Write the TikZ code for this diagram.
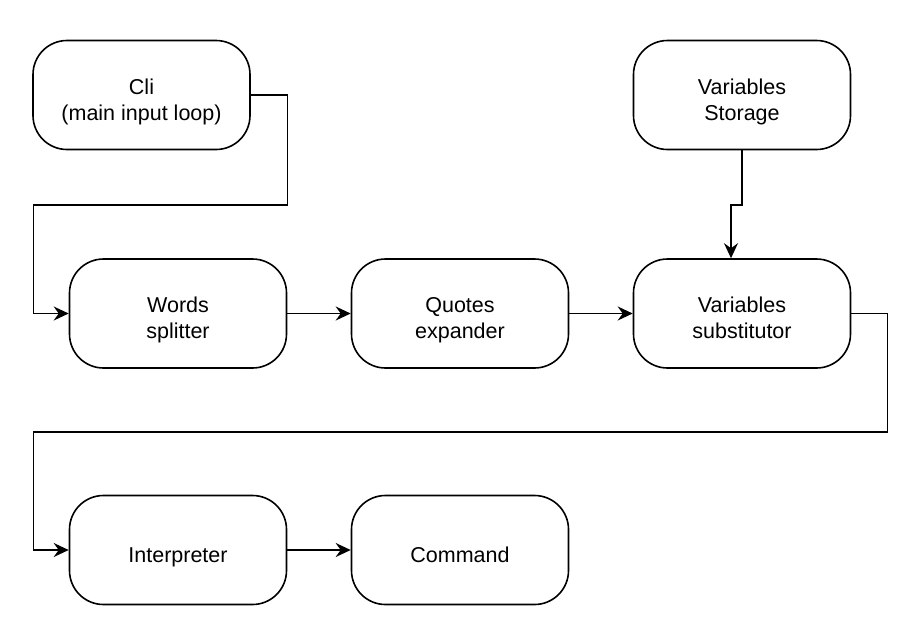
\documentclass[tikz,border=0pt]{standalone}
\usepackage{fontspec}
\setmainfont{Liberation Sans}
\usetikzlibrary{arrows.meta}
\tikzset{
  stage/.style={draw, line width=1.6pt, rounded corners=34pt, minimum width=217pt,
    minimum height=109pt, inner sep=0pt, align=center, text height=24pt, text depth=0pt,
    font=\fontsize{21.5}{26}\selectfont},
  twoline/.style={text height=50pt, text depth=0pt},
  flow/.style={line width=1.6pt, -{Stealth[length=15pt,width=14pt,inset=5pt]}}
}
\begin{document}
\begin{tikzpicture}[x=1pt,y=-1pt]
  \useasboundingbox (0,0) rectangle (918,627);
  \node (cli) [stage,twoline] at (141.5,95) {Cli\\(main input loop)};
  \node (storage) [stage,twoline] at (742,95) {Variables\\Storage};
  \node (words) [stage,twoline] at (178,313.5) {Words\\splitter};
  \node (quotes) [stage,twoline] at (460,313.5) {Quotes\\expander};
  \node (subst) [stage,twoline] at (742,313.5) {Variables\\substitutor};
  \node (interp) [stage] at (178,550) {Interpreter};
  \node (command) [stage] at (460,550) {Command};
  \draw [flow] (cli.east) -- (287.5,95) -- (287.5,205) -- (33.5,205) |- (words.west);
  \draw [flow] (storage.south) -- (742,205) -| ([xshift=-11pt]subst.north);
  \draw [flow] (words) -- (quotes);
  \draw [flow] (quotes) -- (subst);
  \draw [flow] (subst.east) -- (887.5,313.5) -- (887.5,432) -- (33.5,432) |- (interp.west);
  \draw [flow] (interp) -- (command);
\end{tikzpicture}
\end{document}
